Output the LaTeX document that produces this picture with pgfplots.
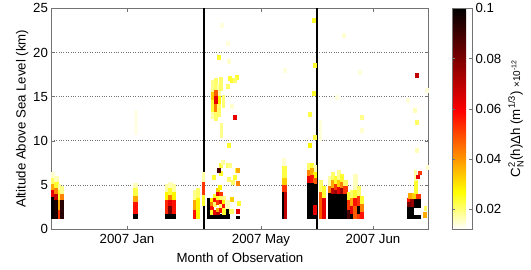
\documentclass[border=0pt]{standalone}
\usepackage{amsmath}
\usepackage{fontspec}
\setmainfont{Liberation Sans}
\usepackage{pgfplots}
\usepackage{pgfplotstable}
\pgfplotsset{compat=1.18}
\pgfplotstableread{
x0 x1 y0 y1 c
51.5 54.5 172 178 0.0147
51.5 54.5 178 184 0.0207
51.5 54.5 184 190 0.0375
51.5 54.5 190 197 0.0627
51.5 54.5 197 218 0.1
54.5 58 176 182 0.016
54.5 58 182 188 0.024
54.5 58 188 194 0.0424
54.5 58 194 200 0.0689
54.5 58 200 218 0.0963
58 60.5 184 190 0.0173
58 60.5 190 200 0.024
58 60.5 200 210 0.0375
58 60.5 210 218 0.0521
60.5 63 186 194 0.0187
60.5 63 194 200 0.0424
60.5 63 200 218 0.0938
134 137 110 134 0.0133
133.3 137.5 183 188 0.016
133.3 137.5 188 196 0.0227
133.3 137.5 196 202 0.0375
133.3 137.5 202 214 0.057
133.3 137.5 214 218 0.1
165 168 184 192 0.0173
165 168 192 200 0.0277
165 168 200 214 0.0541
165 168 214 218 0.1
168 172 182 188 0.016
168 172 188 195 0.024
168 172 195 200 0.0424
168 172 200 206 0.0627
168 172 206 214 0.0814
168 172 214 218 0.1
172 175 184 192 0.0173
172 175 192 200 0.0277
172 175 200 214 0.057
172 175 214 218 0.1
193 196 190 200 0.0187
193 196 200 210 0.0375
193 196 210 218 0.057
196 199 188 198 0.0207
196 199 198 218 0.0277
202 204 172 182 0.0173
202 204 182 195 0.0521
202 204 195 205 0.024
207.5 210.5 198 218 0.1
207.5 229 214 218 0.1
224.5 228 208 214 0.1
210.5 213.5 198 202 0.0277
210.5 213.5 202 206 0.0424
210.5 213.5 206 210 0.057
210.5 213.5 210 214 0.024
213.5 216.5 194 198 0.024
213.5 216.5 198 202 0.057
213.5 216.5 202 206 0.0207
213.5 216.5 210 214 0.0627
216.5 219.5 188 192 0.0326
216.5 219.5 192 196 0.0627
216.5 219.5 196 200 0.024
216.5 219.5 200 204 0.0521
216.5 219.5 208 212 0.0375
216.5 219.5 212 214 0.0689
219.5 222.5 192 196 0.0521
219.5 222.5 196 200 0.0207
219.5 222.5 200 204 0.0627
219.5 222.5 204 208 0.0207
219.5 222.5 208 212 0.057
222.5 225 196 200 0.0187
222.5 225 200 204 0.0277
222.5 225 204 208 0.057
222.5 225 208 214 0.024
225 229 200 208 0.016
229 233 209 213 0.0207
236.5 239 209 213 0.0627
236.5 239.5 216.5 218 0.1
211 214 80 92 0.0187
214 217 78 90 0.0207
217 220 84 96 0.0173
211 214 92 100 0.0326
214 217 90 96 0.0473
217 220 96 104 0.0277
211 214 100 112 0.024
214 217 96 104 0.0627
214 217 104 112 0.0424
217 220 104 116 0.0207
211 214 112 118 0.0173
214 217 112 120 0.0207
219.5 222.5 77 90 0.0207
220 222.5 123 137 0.0187
222 224.5 95 107 0.020
216.8 219.8 55 59 0.024
227 230 59 63 0.0147
230.5 233.5 78 82 0.024
235.5 238.5 75 79 0.024
226.2 229.2 84 88 0.0207
233.5 236.5 115 119 0.0627
219.5 222.5 163 167 0.0227
235.2 238.2 168 172 0.024
230.2 233.2 197 201 0.0326
220.2 223.2 23 27 0.014
226.5 229.5 41 45 0.014
228.5 231.5 76 80 0.024
233.5 236.5 78 82 0.0207
230.2 233.2 104 108 0.0147
226.8 229.8 143 147 0.024
236 239 168 172 0.0375
226.5 229.5 163 167 0.0207
231.5 234.5 180 184 0.0207
237.5 240.5 201 205 0.024
283.5 286.5 68 72 0.014
311.8 314.8 18 22 0.024
312.8 315.8 63 67 0.024
312.5 315.5 91 95 0.024
307.8 310.8 112 116 0.0227
313.5 316.5 135 139 0.0227
307.8 310.8 143 147 0.0277
341.8 344.8 33 37 0.0147
358.5 361.5 70 74 0.014
360.2 363.2 115 119 0.0187
360.2 363.2 128 132 0.0147
335.2 338.2 95 99 0.014
406.5 409.5 98 102 0.014
413.5 416.5 108 112 0.016
415.2 418.2 120 124 0.0207
415.2 418.2 73 77 0.0689
425.2 428.2 88 92 0.014
415.5 418.5 148 152 0.016
426.5 428.5 165 169 0.0147
211.8 214.8 175 179 0.024
219.5 222.5 171 175 0.024
226.8 229.8 177 181 0.0207
233.5 236.5 175 179 0.024
236.5 239.5 181 185 0.0424
228.5 231.5 163 167 0.0187
221.5 224.5 160 164 0.0173
218.5 221.5 185 189 0.0277
217.2 219.8 168 172 0.0876
319 321 120 140 0.014
282 285.5 158 166 0.0147
282 286 166 178 0.0227
282 286 178 185 0.0326
282 286 185 192 0.0521
282 284.5 192 218 0.1
284.5 286.5 192 218 0.0689
307 310 163 170 0.0207
310 313 163 168 0.024
313 316 165 172 0.0173
307 310 170 176 0.0424
310 313 168 175 0.0375
313 316 172 178 0.0277
307 310 176 183 0.0627
310 313 175 182 0.057
313 316 178 184 0.0473
307 313 183 218 0.1
313 316 184 205 0.1
313 316 205 215 0.0627
313 316 215 218 0.1
319 322 180 192 0.0207
319 322 192 218 0.0473
322 325 186 198 0.024
322 325 198 218 0.0627
328 331 176 186 0.0173
328 331 186 193 0.0424
328 347 193 218 0.1
331 334 172 180 0.0207
331 334 180 188 0.0375
331 334 188 193 0.0689
334 337 176 184 0.024
334 337 184 190 0.0521
334 337 190 193 0.0752
337 340 170 180 0.0187
337 340 180 187 0.0326
337 340 187 193 0.0627
340 343 174 182 0.024
340 343 182 188 0.0424
340 343 188 193 0.0752
343 347 180 186 0.0207
343 347 186 193 0.0521
347 350 192 200 0.024
347 350 200 210 0.0521
347 350 210 218 0.0876
350 353 190 198 0.0207
350 353 198 206 0.0375
350 353 206 214 0.0627
350 353 214 218 0.1
353 357 174 190 0.016
353 357 190 198 0.024
353 357 198 206 0.057
353 357 206 218 0.0473
357 360 186 196 0.0207
357 360 196 206 0.0521
357 360 206 214 0.1
357 360 214 218 0.0521
360 363.5 196 204 0.024
360 363.5 204 212 0.0424
360 363.5 212 218 0.057
407 413 206 218 0.1
413 420 198 207 0.1
413 420 215 218 0.1
407 410 198 202 0.057
410 413 198 206 0.0752
407 410 202 206 0.0814
408 412 193 198 0.0375
412 416 193 198 0.0326
416 420 194 198 0.0521
414 417 180 193 0.024
414.5 416.5 170 180 0.0173
416.5 419 175 178 0.0627
418.5 421 171 174 0.0521
423 426.5 212 217 0.0375
424 426.5 206 210 0.0207
}\cells
\pgfplotsset{colormap={hotr}{rgb255(0cm)=(255,255,255); rgb255(1.67cm)=(255,255,0); rgb255(5.34cm)=(255,0,0); rgb255(10cm)=(0,0,0)}}
\begin{document}
\begin{tikzpicture}
\pgfplotsset{every axis/.append style={font=\fontsize{13.3}{15}\selectfont}}
\begin{axis}[
  name=main,
  scale only axis,
  x=1bp, y=8.83bp,
  xmin=51.5, xmax=428.5, ymin=0, ymax=25,
  xtick={127,261,373},
  xticklabels={2007 Jan, 2007 May, 2007 Jun},
  xticklabel style={yshift=-2bp},
  ytick={0,5,10,15,20,25},
  /pgf/number format/assume math mode=true,
  ymajorgrids,
  grid style={dotted, black!55, line width=0.6pt},
  tick align=inside,
  major tick length=3.5bp,
  axis line style={black!55},
  tick style={black!55},
  xlabel={Month of Observation},
  ylabel={Altitude Above Sea Level (km)},
  xlabel style={yshift=1bp},
  ylabel style={yshift=-2bp},
  colorbar,
  colormap name=hotr,
  point meta min=0.012, point meta max=0.1,
  colorbar style={
    at={(parent axis.north east)}, anchor=north west, xshift=15bp,
    width=20bp,
    ytick={0.02,0.04,0.06,0.08,0.1},
    yticklabels={0.02,0.04,0.06,0.08,0.1},
    tick align=inside,
    major tick length=3bp,
    axis line style={black!55},
    tick style={black!55},
    ylabel={C$^{\text{2}}_{\text{N}}$(h)Δh (m$^{\text{1/3}}$) {\fontsize{10}{11}\selectfont ×10$^{\text{-12}}$}},
  },
]
\addplot[scatter, only marks, mark=square*, mark size=0.5bp,
  point meta=explicit,
  visualization depends on={\thisrow{x1}-\thisrow{x0} \as \cellw},
  visualization depends on={\thisrow{y1}-\thisrow{y0} \as \cellh},
  scatter/use mapped color={draw=mapped color, fill=mapped color, line width=0.15pt},
  scatter/@pre marker code/.append style={/tikz/xscale=\cellw, /tikz/yscale=\cellh},
] table[x expr={(\thisrow{x0}+\thisrow{x1})/2}, y expr={(229-(\thisrow{y0}+\thisrow{y1})/2)/8.83}, meta=c] {\cells};
\addplot[black, line width=2bp, forget plot] coordinates {(204.5,0) (204.5,25)};
\addplot[black, line width=2bp, forget plot] coordinates {(317.5,0) (317.5,25)};
\end{axis}
\path ([xshift=-51.5bp,yshift=-40bp]main.south west) rectangle ([xshift=102.5bp,yshift=8.3bp]main.north east);
\end{tikzpicture}
\end{document}
